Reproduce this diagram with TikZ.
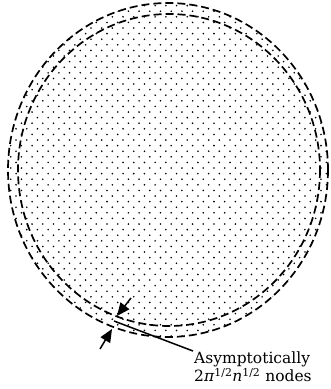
\documentclass[tikz,border=0pt]{standalone}
\usepackage{fontspec}
\setmainfont{DejaVu Serif}
\usetikzlibrary{arrows.meta, positioning, calc}
\tikzset{
  rim/.style     = {line width=1.7pt, dash pattern=on 8pt off 4pt},
  dotmark/.style = {fill=black},
  arrow/.style   = {line width=1.5pt, -{Triangle[length=13pt,width=11pt]}},
  leader/.style  = {line width=1.5pt},
  caption/.style = {font=\fontsize{15.5}{16}\selectfont, align=left, inner sep=1pt},
}

\begin{document}
\begin{tikzpicture}[x=1pt, y=-1pt]
    \useasboundingbox (0,0) rectangle (331,389);

    % dotted disc
    \begin{scope}
      \clip (168,170) ellipse [x radius=160, y radius=167];
      \foreach \r in {0,...,64}{
        \foreach \c in {0,...,32}{
          \pgfmathsetmacro{\xx}{\c*10.7 + mod(\r,2)*5.35}
          \pgfmathsetmacro{\yy}{\r*5.6}
          \fill[dotmark] (\xx,\yy) circle (0.9);
        }
      }
    \end{scope}

    \draw[rim] (168,170) ellipse [x radius=160, y radius=167];
    \draw[rim] (169,170) ellipse [x radius=151, y radius=156];

    \coordinate (innerpt) at (117,316);
    \coordinate (outerpt) at (112,329);
    \coordinate (tailA)   at (131,298);
    \coordinate (tailB)   at (100,349);
    \coordinate (gap)     at (114,321);

    \node[caption, anchor=north west] (label) at (193,351)
      {Asymptotically\\2\textit{π}\textsuperscript{1/2}\textit{n}\textsuperscript{1/2} nodes};

    \draw[arrow] (tailA) -- (innerpt);
    \draw[arrow] (tailB) -- (outerpt);
    \draw[leader] (gap) -- (label.north west);

  \end{tikzpicture}
\end{document}
